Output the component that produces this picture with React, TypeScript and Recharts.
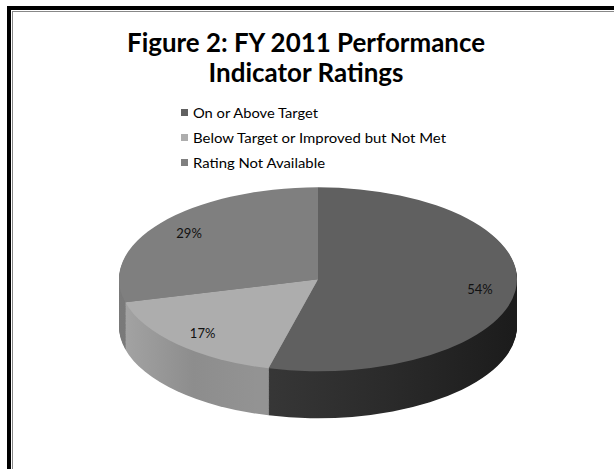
import { PieChart, Pie, Cell } from 'recharts';

const categories = ['On or Above Target', 'Below Target or Improved but Not Met', 'Rating Not Available'];
const shares = [54, 17, 29];
const topColors = ['#606060', '#adadad', '#7f7f7f'];
const sideFills = ['url(#sideDark)', 'url(#sideLight)', 'url(#sideMid)'];
const legendWidths = [125, 253, 132];

const data = categories.map((name, i) => ({ name, value: shares[i] }));

// the pie is drawn round and squashed vertically to look tilted
const K = 0.462;
const CX = 313;
const CY = 277 / K;
const R = 199;
const DEPTH = 47 / K;
const LAYERS = 52;
const layerOffsets = Array.from({ length: LAYERS }, (_, i) => DEPTH * (1 - i / LAYERS));

const RAD = Math.PI / 180;
const font = 'Lato, "Open Sans", sans-serif';

function renderLabel(props: any) {
  const { cx, cy, midAngle, outerRadius, value } = props;
  const r = outerRadius * 0.82;
  const x = cx + r * Math.cos(-midAngle * RAD);
  const y = cy + r * Math.sin(-midAngle * RAD);
  return (
    <text
      transform={`translate(${x},${y}) scale(1,${1 / K})`}
      textAnchor="middle"
      dominantBaseline="central"
      fontSize={13}
      fontFamily={font}
      fill="#111"
    >
      {`${value}%`}
    </text>
  );
}

export default function App() {
  return (
    <div style={{ position: 'absolute', left: 0, top: 0, width: 614, height: 469, overflow: 'hidden', background: '#fff' }}>
      <div style={{ position: 'absolute', left: 7, top: 6, width: 640, height: 500, borderLeft: '4px solid #000', borderTop: '4px solid #000' }} />
      <div style={{ position: 'absolute', left: 12, top: 11, width: 640, height: 500, borderLeft: '1px solid #888', borderTop: '1px solid #888' }} />

      <div style={{ position: 'absolute', left: 0, top: 0, width: 614, height: 1000, transform: `scaleY(${K})`, transformOrigin: '0 0' }}>
        <PieChart width={614} height={1000}>
          {layerOffsets.map((off, li) => (
            <Pie
              key={li}
              data={data}
              dataKey="value"
              cx={CX}
              cy={CY + off}
              outerRadius={R}
              startAngle={90}
              endAngle={-270}
              stroke="none"
              label={false}
              labelLine={false}
              isAnimationActive={false}
            >
              {data.map((d, i) => (
                <Cell key={d.name} fill={sideFills[i]} />
              ))}
            </Pie>
          ))}
          <Pie
            data={data}
            dataKey="value"
            cx={CX}
            cy={CY}
            outerRadius={R}
            startAngle={90}
            endAngle={-270}
            stroke="none"
            label={renderLabel}
            labelLine={false}
            isAnimationActive={false}
          >
            {data.map((d, i) => (
              <Cell key={d.name} fill={topColors[i]} />
            ))}
          </Pie>
        </PieChart>
      </div>

      <svg width={614} height={469} style={{ position: 'absolute', left: 0, top: 0, pointerEvents: 'none' }}>
        <defs>
          <linearGradient id="sideDark" gradientUnits="userSpaceOnUse" x1={CX - R} y1={0} x2={CX + R} y2={0}>
            <stop offset="0.35" stopColor="#383838" />
            <stop offset="0.7" stopColor="#2a2a2a" />
            <stop offset="1" stopColor="#1c1c1c" />
          </linearGradient>
          <linearGradient id="sideLight" gradientUnits="userSpaceOnUse" x1={CX - R} y1={0} x2={CX + R} y2={0}>
            <stop offset="0" stopColor="#a6a6a6" />
            <stop offset="0.2" stopColor="#8d8d8d" />
            <stop offset="0.36" stopColor="#939393" />
          </linearGradient>
          <linearGradient id="sideMid" gradientUnits="userSpaceOnUse" x1={CX - R} y1={0} x2={CX + R} y2={0}>
            <stop offset="0" stopColor="#7a7a7a" />
            <stop offset="1" stopColor="#6a6a6a" />
          </linearGradient>
        </defs>
        <text x={306} y={52} textAnchor="middle" fontFamily={font} fontWeight={700} fontSize={26} fill="#000" textLength={358} lengthAdjust="spacingAndGlyphs">
          Figure 2: FY 2011 Performance
        </text>
        <text x={306} y={82} textAnchor="middle" fontFamily={font} fontWeight={700} fontSize={26} fill="#000" textLength={195} lengthAdjust="spacingAndGlyphs">
          Indicator Ratings
        </text>
        {categories.map((c, i) => (
          <g key={c}>
            <rect x={181} y={109 + i * 25} width={7} height={7} fill={topColors[i]} />
            <text x={193} y={112.5 + i * 25} dominantBaseline="central" fontFamily={font} fontSize={13} fill="#000" textLength={legendWidths[i]} lengthAdjust="spacingAndGlyphs">
              {c}
            </text>
          </g>
        ))}
      </svg>
    </div>
  );
}
